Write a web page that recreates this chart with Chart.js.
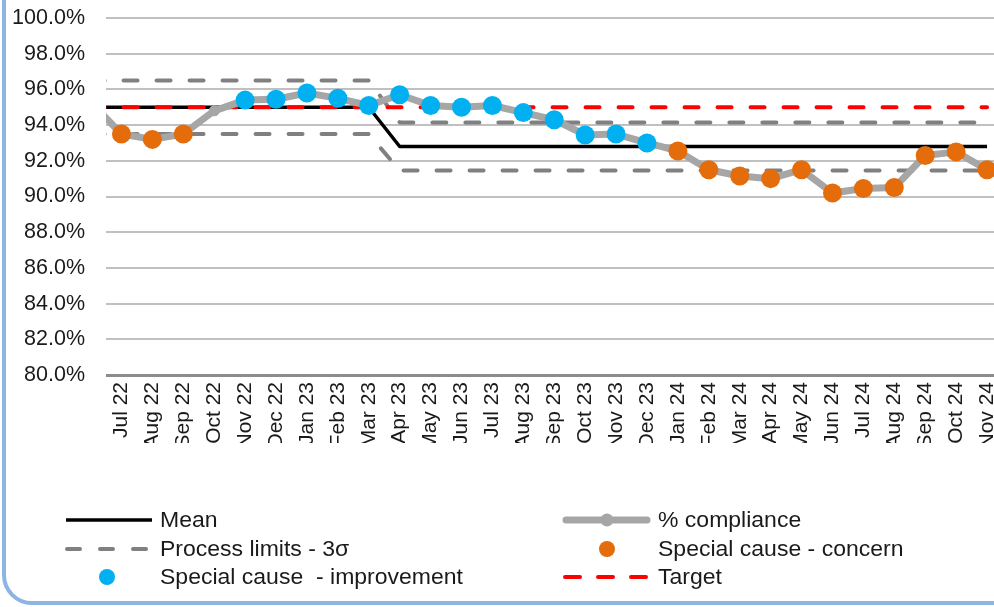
<!DOCTYPE html>
<html>
<head>
<meta charset="utf-8">
<script src="https://cdn.jsdelivr.net/npm/chart.js@4/dist/chart.umd.min.js"></script>
<style>
  html, body { margin: 0; padding: 0; background: #fff; overflow: hidden; width: 994px; height: 607px; }
  #frame { position: absolute; left: 2px; top: -40px; width: 1100px; height: 645px; box-sizing: border-box;
           border: 4.5px solid #8DB4E2; border-radius: 30px; }
  #wrap { position: absolute; left: 0; top: 0; width: 1012px; height: 443px; }
  #legend { position: absolute; left: 0; top: 0; width: 994px; height: 607px; pointer-events: none; }
  .lg { position: absolute; font-family: "Liberation Sans", Arial, sans-serif; font-size: 23px; line-height: 24px;
        color: #1a1a1a; white-space: pre; transform: scaleY(0.92); transform-origin: 0 50%; }
</style>
</head>
<body>
<div id="frame"></div>
<div id="wrap"><canvas id="c" width="1012" height="443"></canvas></div>
<svg id="legend" width="994" height="607">
  <line x1="66" y1="520" x2="152" y2="520" stroke="#000" stroke-width="3.5"/>
  <line x1="67" y1="549" x2="146" y2="549" stroke="#808080" stroke-width="4" stroke-dasharray="13 20" stroke-linecap="round"/>
  <circle cx="107" cy="577" r="8" fill="#00B0F0"/>
  <line x1="566" y1="520" x2="647" y2="520" stroke="#A6A6A6" stroke-width="7" stroke-linecap="round"/>
  <circle cx="607" cy="520" r="6.5" fill="#A6A6A6"/>
  <circle cx="607" cy="549" r="8" fill="#E46C0A"/>
  <line x1="565" y1="577" x2="646" y2="577" stroke="#FF0000" stroke-width="4" stroke-dasharray="15 18" stroke-linecap="round"/>
</svg>
<span class="lg" style="left:160px; top:508px;">Mean</span>
<span class="lg" style="left:160px; top:537px;">Process limits - 3σ</span>
<span class="lg" style="left:160px; top:565px;">Special cause  - improvement</span>
<span class="lg" style="left:658px; top:508px;">% compliance</span>
<span class="lg" style="left:658px; top:537px;">Special cause - concern</span>
<span class="lg" style="left:658px; top:565px;">Target</span>

<script>
// Monthly compliance (SPC chart). The first month is a lead-in that sits just
// off the left edge of the plot so the lines enter from the side.
const months = ['Jun 22', 'Jul 22', 'Aug 22', 'Sep 22', 'Oct 22', 'Nov 22', 'Dec 22', 'Jan 23', 'Feb 23', 'Mar 23',
  'Apr 23', 'May 23', 'Jun 23', 'Jul 23', 'Aug 23', 'Sep 23', 'Oct 23', 'Nov 23', 'Dec 23', 'Jan 24',
  'Feb 24', 'Mar 24', 'Apr 24', 'May 24', 'Jun 24', 'Jul 24', 'Aug 24', 'Sep 24', 'Oct 24', 'Nov 24'];

const compliance = [95.3, 93.5, 93.2, 93.5, 94.8, 95.4, 95.45, 95.8, 95.5, 95.1,
  95.7, 95.1, 95.0, 95.1, 94.7, 94.3, 93.45, 93.5, 93.0, 92.55,
  91.5, 91.15, 91.0, 91.5, 90.2, 90.45, 90.5, 92.3, 92.5, 91.5];

const mean = [95.0, 95.0, 95.0, 95.0, 95.0, 95.0, 95.0, 95.0, 95.0, 95.0,
  92.8, 92.8, 92.8, 92.8, 92.8, 92.8, 92.8, 92.8, 92.8, 92.8,
  92.8, 92.8, 92.8, 92.8, 92.8, 92.8, 92.8, 92.8, 92.8, 92.8];

const upperLimit = [96.5, 96.5, 96.5, 96.5, 96.5, 96.5, 96.5, 96.5, 96.5, 96.5,
  94.15, 94.15, 94.15, 94.15, 94.15, 94.15, 94.15, 94.15, 94.15, 94.15,
  94.15, 94.15, 94.15, 94.15, 94.15, 94.15, 94.15, 94.15, 94.15, 94.15];

const lowerLimit = [93.5, 93.5, 93.5, 93.5, 93.5, 93.5, 93.5, 93.5, 93.5, 93.5,
  91.45, 91.45, 91.45, 91.45, 91.45, 91.45, 91.45, 91.45, 91.45, 91.45,
  91.45, 91.45, 91.45, 91.45, 91.45, 91.45, 91.45, 91.45, 91.45, 91.45];

const target = months.map(() => 95.0);

const improvementMonths = ['Nov 22', 'Dec 22', 'Jan 23', 'Feb 23', 'Mar 23', 'Apr 23', 'May 23', 'Jun 23',
  'Jul 23', 'Aug 23', 'Sep 23', 'Oct 23', 'Nov 23', 'Dec 23'];
const concernMonths = ['Jul 22', 'Aug 22', 'Sep 22', 'Jan 24', 'Feb 24', 'Mar 24', 'Apr 24', 'May 24',
  'Jun 24', 'Jul 24', 'Aug 24', 'Sep 24', 'Oct 24', 'Nov 24'];

const yTicks = [80, 82, 84, 86, 88, 90, 92, 94, 96, 98, 100];

const pts = arr => arr.map((v, i) => ({ x: i, y: v }));
const flagged = list => months.map((m, i) => ({ x: i, y: list.includes(m) ? compliance[i] : null }))
  .filter(p => p.y !== null);

const FONT = 'Liberation Sans, Arial, sans-serif';
const dash = [14, 19];

new Chart(document.getElementById('c'), {
  type: 'line',
  data: {
    datasets: [
      { data: flagged(improvementMonths), showLine: false, pointRadius: 9.5, pointBackgroundColor: '#00B0F0',
        pointBorderWidth: 0 },
      { data: flagged(concernMonths), showLine: false, pointRadius: 9.5, pointBackgroundColor: '#E46C0A',
        pointBorderWidth: 0 },
      { data: pts(compliance), borderColor: '#A6A6A6', borderWidth: 7, pointRadius: 5.5,
        pointBackgroundColor: '#A6A6A6', pointBorderWidth: 0, borderJoinStyle: 'round', borderCapStyle: 'round' },
      { data: pts(target), borderColor: '#FF0000', borderWidth: 4, borderDash: dash, borderCapStyle: 'round',
        pointRadius: 0 },
      { data: pts(mean), borderColor: '#000000', borderWidth: 3.5, pointRadius: 0, borderJoinStyle: 'round' },
      { data: pts(upperLimit), borderColor: '#808080', borderWidth: 4, borderDash: dash, borderCapStyle: 'round',
        borderJoinStyle: 'round', pointRadius: 0 },
      { data: pts(lowerLimit), borderColor: '#808080', borderWidth: 4, borderDash: dash, borderCapStyle: 'round',
        borderJoinStyle: 'round', pointRadius: 0 }
    ]
  },
  options: {
    responsive: false,
    animation: false,
    devicePixelRatio: 1,
    layout: { padding: { top: 18, right: 0, bottom: 0, left: 0 } },
    plugins: { legend: { display: false }, tooltip: { enabled: false } },
    scales: {
      x: {
        type: 'linear',
        min: 0.5,
        max: months.length - 0.5,
        grid: { display: false, drawTicks: false },
        border: { display: false },
        afterBuildTicks: s => { s.ticks = months.slice(1).map((m, i) => ({ value: i + 1 })); },
        afterFit: s => { s.height = 68; s.paddingLeft = 0; s.paddingRight = 0; },
        ticks: {
          autoSkip: false, minRotation: 90, maxRotation: 90, padding: 7,
          color: '#1a1a1a', font: { family: FONT, size: 21 },
          callback: v => months[v]
        }
      },
      y: {
        min: 80, max: 100,
        grid: {
          drawTicks: false,
          color: c => c.tick && c.tick.value === 80 ? '#8C8C8C' : '#C0C0C0',
          lineWidth: c => c.tick && c.tick.value === 80 ? 3 : 2
        },
        border: { display: false },
        afterBuildTicks: s => { s.ticks = yTicks.map(v => ({ value: v })); },
        afterFit: s => { s.width = 106; s.paddingTop = 0; s.paddingBottom = 0; },
        ticks: {
          padding: 21, color: '#1a1a1a', font: { family: FONT, size: 21.5 },
          callback: v => v.toFixed(1) + '%'
        }
      }
    }
  }
});
</script>
</body>
</html>
